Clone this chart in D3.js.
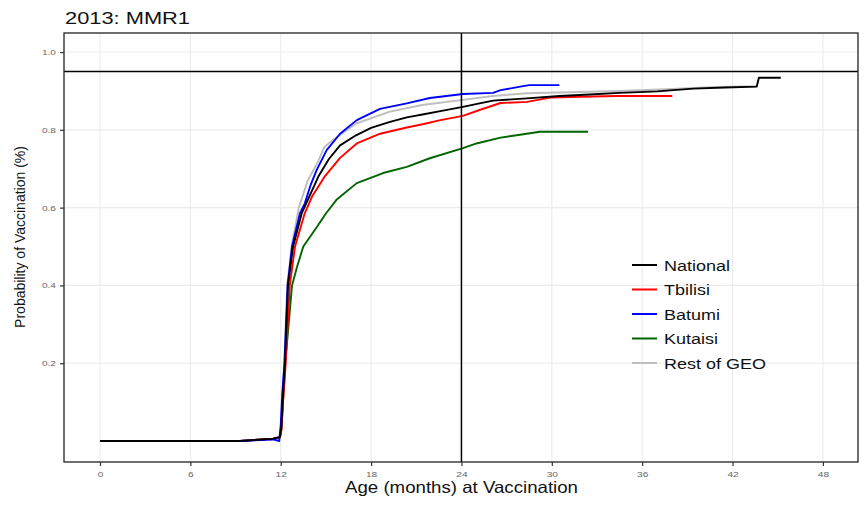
<!DOCTYPE html>
<html>
<head>
<meta charset="utf-8">
<script src="https://cdn.jsdelivr.net/npm/d3@7"></script>
<style>
  body { margin: 0; background: #fff; }
  text { font-family: "Liberation Sans", Arial, sans-serif; }
</style>
</head>
<body>
<div id="chart"></div>
<script>
// data (age in months, cumulative probability)
const seriesNames = ["National", "Tbilisi", "Batumi", "Kutaisi", "Rest of GEO"];

const nationalAge  = [0, 9.3, 11.5, 11.95, 12.05, 12.15, 12.28, 12.48, 12.82, 13.4, 13.8, 14.5, 15.2, 15.94, 17.0, 18.0, 19.2, 20.37, 21.5, 22.6, 24.1, 25.2, 26.1, 28.35, 30.5, 32.5, 34.5, 37.0, 39.4, 41.5, 43.6, 43.75, 45.2];
const nationalProb = [0, 0, 0.006, 0.01, 0.04, 0.12, 0.2, 0.4, 0.5, 0.586, 0.62, 0.68, 0.725, 0.76, 0.786, 0.805, 0.82, 0.832, 0.84, 0.848, 0.859, 0.868, 0.875, 0.881, 0.887, 0.891, 0.895, 0.899, 0.906, 0.909, 0.911, 0.934, 0.934];

const tbilisiAge  = [0, 9.3, 11.5, 11.95, 12.05, 12.15, 12.3, 12.6, 12.95, 13.6, 14.1, 14.9, 15.94, 17.05, 18.6, 20.37, 21.5, 22.6, 24.1, 25.2, 26.6, 28.35, 29.9, 32.0, 34.3, 38.0];
const tbilisiProb = [0, 0, 0.006, 0.01, 0.03, 0.1, 0.18, 0.4, 0.5, 0.586, 0.63, 0.679, 0.728, 0.765, 0.79, 0.806, 0.815, 0.825, 0.836, 0.851, 0.869, 0.872, 0.883, 0.885, 0.887, 0.887];

const batumiAge  = [0, 9.3, 11.5, 11.9, 12.0, 12.1, 12.25, 12.46, 12.75, 13.28, 13.6, 14.0, 14.39, 15.05, 15.94, 17.05, 18.59, 20.37, 21.9, 24.1, 26.1, 26.6, 27.9, 28.5, 30.5];
const batumiProb = [0, 0, 0.004, 0.0, 0.04, 0.12, 0.2, 0.4, 0.5, 0.586, 0.611, 0.66, 0.697, 0.748, 0.79, 0.825, 0.854, 0.868, 0.882, 0.892, 0.895, 0.902, 0.911, 0.915, 0.915];

const kutaisiAge  = [0, 9.3, 11.5, 11.95, 12.05, 12.15, 12.3, 12.75, 13.1, 13.5, 14.4, 15.0, 15.7, 17.05, 18.8, 20.37, 21.9, 24.1, 25.0, 26.6, 28.0, 29.2, 32.4];
const kutaisiProb = [0, 0, 0.006, 0.01, 0.03, 0.1, 0.2, 0.4, 0.45, 0.5, 0.55, 0.585, 0.62, 0.663, 0.689, 0.705, 0.727, 0.753, 0.765, 0.78, 0.788, 0.795, 0.795];

const restAge  = [0, 9.3, 11.5, 11.95, 12.05, 12.15, 12.25, 12.43, 12.72, 13.2, 13.8, 14.5, 14.9, 15.5, 17.05, 19.25, 21.4, 24.1, 26.1, 28.35, 30.5, 34.5, 38.0, 39.4, 41.0, 43.6];
const restProb = [0, 0, 0.006, 0.012, 0.05, 0.14, 0.22, 0.4, 0.5, 0.6, 0.67, 0.72, 0.756, 0.775, 0.817, 0.847, 0.864, 0.877, 0.887, 0.894, 0.896, 0.9, 0.905, 0.908, 0.91, 0.912];

const xTicks = [0, 6, 12, 18, 24, 30, 36, 42, 48];
const yTicks = [0.2, 0.4, 0.6, 0.8, 1.0];
const coverageTarget = 0.95;
const ageCutoff = 24;

const seriesData = {
    "National": [nationalAge, nationalProb],
    "Tbilisi": [tbilisiAge, tbilisiProb],
    "Batumi": [batumiAge, batumiProb],
    "Kutaisi": [kutaisiAge, kutaisiProb],
    "Rest of GEO": [restAge, restProb]
};

// styles
const colors = {
    "National": "#000000",
    "Tbilisi": "#ff0000",
    "Batumi": "#0000ff",
    "Kutaisi": "#006400",
    "Rest of GEO": "#bebebe"
};
const drawOrder = ["Rest of GEO", "Kutaisi", "Tbilisi", "Batumi", "National"];

const W = 865, H = 508;
const panel = {left: 64, right: 858, top: 33, bottom: 462};
const stretch = 1.27; // reference text is a bit wide

const svg = d3.select("#chart").append("svg")
    .attr("width", W)
    .attr("height", H);

const x = d3.scaleLinear().domain([-2.39, 50.33]).range([panel.left, panel.right]);
const y = d3.scaleLinear().domain([-0.054, 1.049]).range([panel.bottom, panel.top]);

// grid
svg.append("g").selectAll("line.gx")
    .data(xTicks)
    .join("line")
    .attr("x1", d => x(d)).attr("x2", d => x(d))
    .attr("y1", panel.top).attr("y2", panel.bottom)
    .attr("stroke", "#ebebeb").attr("stroke-width", 1.1);

svg.append("g").selectAll("line.gy")
    .data(yTicks)
    .join("line")
    .attr("x1", panel.left).attr("x2", panel.right)
    .attr("y1", d => y(d)).attr("y2", d => y(d))
    .attr("stroke", "#ebebeb").attr("stroke-width", 1.1);

// curves (many tiny KM steps, so drawn as a plain line)
const line = d3.line()
    .x(d => x(d[0]))
    .y(d => y(d[1]))
    .curve(d3.curveLinear);

drawOrder.forEach(function (name) {
    let ages = seriesData[name][0], probs = seriesData[name][1];
    let pts = ages.map((a, i) => [a, probs[i]]);
    svg.append("path")
        .datum(pts)
        .attr("d", line)
        .attr("fill", "none")
        .attr("stroke", colors[name])
        .attr("stroke-width", 1.9)
        .attr("stroke-linejoin", "round");
});

// reference lines
svg.append("line")
    .attr("x1", panel.left).attr("x2", panel.right)
    .attr("y1", y(coverageTarget)).attr("y2", y(coverageTarget))
    .attr("stroke", "#000").attr("stroke-width", 1.5);
svg.append("line")
    .attr("x1", x(ageCutoff)).attr("x2", x(ageCutoff))
    .attr("y1", panel.top).attr("y2", panel.bottom)
    .attr("stroke", "#000").attr("stroke-width", 1.5);

// panel border
svg.append("rect")
    .attr("x", panel.left).attr("y", panel.top)
    .attr("width", panel.right - panel.left)
    .attr("height", panel.bottom - panel.top)
    .attr("fill", "none")
    .attr("stroke", "#222").attr("stroke-width", 1.3);

// axes
const xAxis = d3.axisBottom(x).tickValues(xTicks).tickSize(4).tickPadding(4).tickFormat(d3.format("d"));
const yAxis = d3.axisLeft(y).tickValues(yTicks).tickSize(4).tickPadding(4).tickFormat(d3.format(".1f"));

const gx = svg.append("g").attr("transform", `translate(0,${panel.bottom})`).call(xAxis);
const gy = svg.append("g").attr("transform", `translate(${panel.left},0)`).call(yAxis);

[gx, gy].forEach(function (g) {
    g.select(".domain").remove();
    g.selectAll(".tick line").attr("stroke", "#333").attr("stroke-width", 1.2);
    g.selectAll(".tick text")
        .attr("fill", "#666")
        .attr("font-size", 8)
        .style("font-family", "'Liberation Sans', Arial, sans-serif");
});
gx.selectAll(".tick text").attr("transform", `scale(${stretch},1)`).attr("dy", "0.9em");
gy.selectAll(".tick text").each(function () {
    let t = d3.select(this);
    let tx = +t.attr("x");
    t.attr("x", tx / stretch).attr("transform", `scale(${stretch},1)`);
});

// title & axis titles
svg.append("text")
    .attr("x", 65).attr("y", 24)
    .attr("font-size", 17)
    .attr("textLength", 125).attr("lengthAdjust", "spacingAndGlyphs")
    .attr("fill", "#111")
    .text("2013: MMR1");

svg.append("text")
    .attr("x", 345).attr("y", 493)
    .attr("font-size", 16.5)
    .attr("textLength", 233).attr("lengthAdjust", "spacingAndGlyphs")
    .attr("fill", "#111")
    .text("Age (months) at Vaccination");

svg.append("text")
    .attr("transform", "translate(25,237) rotate(-90)")
    .attr("text-anchor", "middle")
    .attr("font-size", 14)
    .attr("fill", "#111")
    .text("Probability of Vaccination (%)");

// legend
const legend = svg.append("g").attr("transform", "translate(632,265)");
seriesNames.forEach(function (name, i) {
    let row = legend.append("g").attr("transform", `translate(0,${i * 24.5})`);
    row.append("line")
        .attr("x1", 0).attr("x2", 25)
        .attr("stroke", colors[name]).attr("stroke-width", 2);
    row.append("text")
        .attr("transform", `translate(32,5.5) scale(1.2,1)`)
        .attr("font-size", 15)
        .attr("fill", "#111")
        .text(name);
});
</script>
</body>
</html>
